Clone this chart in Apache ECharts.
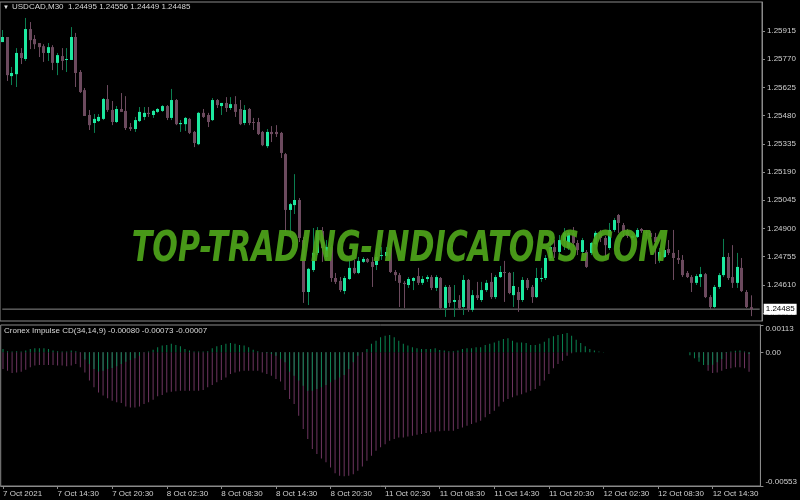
<!DOCTYPE html>
<html><head><meta charset="utf-8">
<script src="https://cdn.jsdelivr.net/npm/echarts@6/dist/echarts.min.js"></script>
<style>html,body{margin:0;padding:0;background:#000;}#c{width:800px;height:500px;}</style>
</head><body><div id="c"></div><script>
const dayTimes = ['00:00','00:30','01:00','01:30','02:00','02:30','03:00','03:30','04:00','04:30','05:00','05:30','06:00','06:30','07:00','07:30','08:00','08:30','09:00','09:30','10:00','10:30','11:00','11:30','12:00','12:30','13:00','13:30','14:00','14:30','15:00','15:30','16:00','16:30','17:00','17:30','18:00','18:30','19:00','19:30','20:00','20:30','21:00','21:30','22:00','22:30','23:00','23:30'];
const categories = [].concat(
  dayTimes.slice(17).map(t => '7 Oct ' + t),
  dayTimes.map(t => '8 Oct ' + t),
  dayTimes.map(t => '11 Oct ' + t),
  dayTimes.slice(0, 40).map(t => '12 Oct ' + t)
);
const firstLabel = '7 Oct 2021';

const opens = [1.25858,1.25884,1.25683,1.25693,1.25802,1.25771,1.25925,1.25874,1.25853,1.25837,1.25802,1.25832,1.25751,1.25786,1.25766,1.25766,1.25884,1.25704,1.25611,1.25483,1.25442,1.25452,1.25463,1.25565,1.25509,1.25447,1.25514,1.25504,1.25421,1.25411,1.25452,1.25473,1.25494,1.25483,1.25499,1.25504,1.25529,1.25468,1.25560,1.25436,1.25436,1.25463,1.25396,1.25333,1.25494,1.25483,1.25457,1.25560,1.25529,1.25545,1.25519,1.25539,1.25514,1.25442,1.25514,1.25447,1.25447,1.25396,1.25323,1.25396,1.25396,1.25391,1.25282,1.24995,1.25020,1.25046,1.24840,1.24573,1.24686,1.24774,1.24887,1.24753,1.24804,1.24645,1.24630,1.24578,1.24640,1.24697,1.24671,1.24728,1.24743,1.24728,1.24712,1.24758,1.24758,1.24799,1.24676,1.24660,1.24620,1.24609,1.24630,1.24655,1.24620,1.24640,1.24650,1.24594,1.24645,1.24491,1.24599,1.24522,1.24532,1.24496,1.24635,1.24481,1.24557,1.24532,1.24583,1.24625,1.24547,1.24650,1.24676,1.24671,1.24557,1.24573,1.24532,1.24635,1.24599,1.24547,1.24640,1.24645,1.24748,1.24804,1.24779,1.24835,1.24799,1.24877,1.24825,1.24779,1.24779,1.24774,1.24819,1.24877,1.24851,1.24799,1.24892,1.24969,1.24917,1.24887,1.24851,1.24856,1.24897,1.24882,1.24877,1.24856,1.24738,1.24753,1.24794,1.24774,1.24748,1.24738,1.24671,1.24650,1.24620,1.24650,1.24665,1.24547,1.24496,1.24599,1.24660,1.24753,1.24650,1.24620,1.24697,1.24573,1.24495];
const closes = [1.25884,1.25688,1.25699,1.25802,1.25776,1.25925,1.25868,1.25847,1.25832,1.25802,1.25832,1.25751,1.25791,1.25761,1.25771,1.25884,1.25699,1.25601,1.25478,1.25431,1.25463,1.25473,1.25565,1.25509,1.25447,1.25514,1.25499,1.25416,1.25411,1.25457,1.25499,1.25494,1.25488,1.25504,1.25514,1.25529,1.25468,1.25560,1.25436,1.25442,1.25468,1.25391,1.25339,1.25494,1.25473,1.25447,1.25560,1.25534,1.25545,1.25519,1.25539,1.25499,1.25436,1.25509,1.25442,1.25442,1.25385,1.25328,1.25396,1.25385,1.25385,1.25288,1.24995,1.25025,1.25046,1.24851,1.24573,1.24692,1.24774,1.24887,1.24799,1.24804,1.24645,1.24625,1.24583,1.24645,1.24697,1.24671,1.24733,1.24743,1.24728,1.24702,1.24753,1.24763,1.24779,1.24676,1.24660,1.24620,1.24614,1.24640,1.24645,1.24620,1.24640,1.24650,1.24594,1.24650,1.24491,1.24599,1.24517,1.24532,1.24491,1.24635,1.24481,1.24557,1.24542,1.24583,1.24620,1.24547,1.24650,1.24676,1.24671,1.24568,1.24604,1.24532,1.24635,1.24594,1.24547,1.24645,1.24645,1.24748,1.24804,1.24779,1.24840,1.24877,1.24877,1.24825,1.24789,1.24840,1.24702,1.24825,1.24877,1.24851,1.24814,1.24892,1.24943,1.24928,1.24882,1.24861,1.24861,1.24892,1.24887,1.24877,1.24856,1.24830,1.24779,1.24789,1.24774,1.24748,1.24738,1.24660,1.24650,1.24620,1.24655,1.24665,1.24547,1.24496,1.24599,1.24660,1.24753,1.24645,1.24620,1.24702,1.24578,1.24496,1.24485];
const lows = [1.25858,1.25658,1.25637,1.25627,1.25745,1.25761,1.25822,1.25822,1.25781,1.25756,1.25761,1.25714,1.25688,1.25714,1.25704,1.25766,1.25627,1.25596,1.25478,1.25406,1.25391,1.25447,1.25457,1.25499,1.25431,1.25442,1.25499,1.25406,1.25401,1.25396,1.25447,1.25457,1.25473,1.25468,1.25494,1.25499,1.25457,1.25457,1.25431,1.25396,1.25401,1.25385,1.25318,1.25328,1.25468,1.25421,1.25452,1.25519,1.25483,1.25499,1.25509,1.25473,1.25431,1.25431,1.25431,1.25406,1.25380,1.25323,1.25313,1.25344,1.25370,1.25262,1.24882,1.24856,1.24974,1.24830,1.24517,1.24506,1.24676,1.24763,1.24728,1.24738,1.24625,1.24614,1.24573,1.24562,1.24635,1.24665,1.24665,1.24723,1.24723,1.24599,1.24686,1.24738,1.24748,1.24671,1.24630,1.24496,1.24491,1.24594,1.24583,1.24609,1.24609,1.24625,1.24583,1.24578,1.24486,1.24445,1.24496,1.24445,1.24481,1.24455,1.24471,1.24471,1.24532,1.24522,1.24573,1.24537,1.24537,1.24645,1.24522,1.24562,1.24496,1.24471,1.24522,1.24583,1.24517,1.24542,1.24625,1.24635,1.24738,1.24748,1.24763,1.24789,1.24789,1.24804,1.24763,1.24763,1.24697,1.24763,1.24814,1.24830,1.24748,1.24789,1.24882,1.24877,1.24856,1.24851,1.24840,1.24851,1.24877,1.24861,1.24846,1.24717,1.24723,1.24748,1.24763,1.24635,1.24717,1.24650,1.24645,1.24573,1.24609,1.24599,1.24542,1.24486,1.24491,1.24589,1.24650,1.24635,1.24594,1.24594,1.24573,1.24491,1.24449];
const highs = [1.25920,1.25884,1.25730,1.25827,1.25827,1.25982,1.25961,1.25894,1.25853,1.25847,1.25853,1.25842,1.25802,1.25827,1.25827,1.25935,1.25905,1.25714,1.25622,1.25509,1.25488,1.25488,1.25570,1.25637,1.25555,1.25529,1.25596,1.25580,1.25442,1.25473,1.25524,1.25524,1.25524,1.25509,1.25519,1.25534,1.25534,1.25617,1.25565,1.25457,1.25473,1.25468,1.25401,1.25499,1.25514,1.25494,1.25570,1.25565,1.25545,1.25575,1.25575,1.25580,1.25560,1.25534,1.25519,1.25468,1.25468,1.25401,1.25411,1.25426,1.25431,1.25396,1.25288,1.25031,1.25179,1.25056,1.24856,1.24697,1.24902,1.24907,1.24907,1.24840,1.24814,1.24671,1.24650,1.24655,1.24738,1.24738,1.24753,1.24753,1.24748,1.24753,1.24799,1.24804,1.24804,1.24814,1.24686,1.24671,1.24630,1.24650,1.24650,1.24697,1.24655,1.24660,1.24660,1.24660,1.24650,1.24609,1.24609,1.24609,1.24557,1.24660,1.24640,1.24583,1.24625,1.24625,1.24635,1.24671,1.24660,1.24707,1.24733,1.24676,1.24676,1.24599,1.24650,1.24645,1.24609,1.24697,1.24697,1.24763,1.24825,1.24840,1.24866,1.24902,1.24887,1.24907,1.24840,1.24851,1.24789,1.24830,1.24887,1.24892,1.24861,1.24928,1.24954,1.24974,1.24928,1.24897,1.24871,1.24902,1.24902,1.24892,1.24887,1.24877,1.24799,1.24804,1.24840,1.24892,1.24789,1.24763,1.24681,1.24660,1.24665,1.24702,1.24671,1.24557,1.24609,1.24671,1.24846,1.24774,1.24814,1.24774,1.24748,1.24583,1.24556];

const N = null;
const impulseMain = [-0.00069,-0.00076,-0.00086,-0.00083,-0.00080,-0.00072,-0.00062,-0.00055,-0.00052,-0.00052,-0.00052,-0.00052,-0.00055,-0.00055,-0.00058,-0.00055,-0.00048,-0.00062,-0.00083,-0.00117,-0.00145,-0.00166,-0.00179,-0.00190,-0.00200,-0.00207,-0.00210,-0.00224,-0.00228,-0.00228,-0.00224,-0.00214,-0.00207,-0.00196,-0.00182,-0.00177,-0.00166,-0.00163,-0.00161,-0.00159,-0.00159,-0.00159,-0.00159,-0.00159,-0.00156,-0.00145,-0.00135,-0.00124,-0.00115,-0.00104,-0.00090,-0.00083,-0.00079,-0.00076,-0.00076,-0.00076,-0.00076,-0.00083,-0.00090,-0.00097,-0.00110,-0.00121,-0.00156,-0.00193,-0.00214,-0.00262,-0.00317,-0.00359,-0.00400,-0.00421,-0.00439,-0.00455,-0.00476,-0.00500,-0.00511,-0.00513,-0.00511,-0.00504,-0.00490,-0.00472,-0.00449,-0.00428,-0.00407,-0.00393,-0.00380,-0.00366,-0.00359,-0.00352,-0.00352,-0.00348,-0.00345,-0.00341,-0.00338,-0.00334,-0.00331,-0.00328,-0.00327,-0.00324,-0.00324,-0.00324,-0.00317,-0.00311,-0.00304,-0.00297,-0.00290,-0.00283,-0.00269,-0.00255,-0.00242,-0.00224,-0.00204,-0.00193,-0.00186,-0.00179,-0.00173,-0.00166,-0.00159,-0.00152,-0.00138,-0.00117,-0.00090,-0.00066,-0.00048,-0.00035,-0.00014,-0.00004,N,N,N,N,N,N,N,N,N,N,N,N,N,N,N,N,N,N,N,N,N,N,N,N,N,N,N,-0.00021,-0.00039,-0.00076,-0.00086,-0.00083,-0.00076,-0.00069,-0.00066,-0.00062,-0.00062,-0.00066,-0.00080];
const impulseDiff = [0.00014,0.00004,0.00003,0.00004,0.00003,0.00007,0.00014,0.00017,0.00017,0.00017,0.00014,0.00007,0.00004,0.00003,0.00003,0.00007,0.00004,0.00001,-0.00030,-0.00048,-0.00069,-0.00079,-0.00076,-0.00069,-0.00065,-0.00058,-0.00048,-0.00039,-0.00032,-0.00025,-0.00014,-0.00001,0.00003,0.00011,0.00021,0.00028,0.00030,0.00035,0.00030,0.00025,0.00014,0.00007,0.00003,0.00003,0.00003,0.00004,0.00017,0.00025,0.00030,0.00035,0.00039,0.00035,0.00030,0.00028,0.00021,0.00011,0.00004,0.00001,-0.00003,-0.00007,-0.00014,-0.00028,-0.00041,-0.00080,-0.00097,-0.00117,-0.00138,-0.00159,-0.00159,-0.00152,-0.00145,-0.00135,-0.00124,-0.00113,-0.00104,-0.00094,-0.00069,-0.00041,-0.00014,0.00001,0.00014,0.00035,0.00048,0.00062,0.00069,0.00072,0.00062,0.00048,0.00035,0.00028,0.00021,0.00017,0.00014,0.00014,0.00014,0.00017,0.00010,0.00007,0.00004,0.00004,0.00007,0.00014,0.00017,0.00017,0.00021,0.00021,0.00030,0.00035,0.00041,0.00048,0.00055,0.00058,0.00048,0.00041,0.00041,0.00039,0.00030,0.00030,0.00035,0.00044,0.00058,0.00066,0.00072,0.00076,0.00080,0.00069,0.00052,0.00039,0.00025,0.00014,0.00007,0.00003,0.00001,N,N,N,N,N,N,N,N,N,N,N,N,N,N,N,N,N,N,-0.00012,-0.00025,-0.00039,-0.00052,-0.00052,-0.00051,-0.00041,-0.00028,-0.00003,0.00003,0.00006,0.00008,0.00003,-0.00007];

const priceTicks = [1.24465,1.24610,1.24755,1.24900,1.25045,1.25190,1.25335,1.25480,1.25625,1.25770,1.25915];
const impulseTicks = [-0.00553, 0, 0.00113];
const lastPrice = 1.24485;
const headerText = 'USDCAD,M30  1.24495 1.24556 1.24449 1.24485';
const indicatorText = 'Cronex Impulse CD(34,14,9) -0.00080 -0.00073 -0.00007';

const BULL = '#1de9a0', BULL_WICK = '#0b7e50', BEAR = '#6c4a5e';
const candleData = opens.map((o, i) => [i, o, closes[i], lows[i], highs[i]]);
const priceLineData = [[0, lastPrice], [categories.length - 1, lastPrice]];

function renderCandle(params, api) {
  const x = api.value(0), o = api.value(1), c = api.value(2), l = api.value(3), h = api.value(4);
  const pO = api.coord([x, o]), pC = api.coord([x, c]), pL = api.coord([x, l]), pH = api.coord([x, h]);
  const up = c >= o;
  const xc = Math.round(pO[0]) + 0.5;
  const top = Math.min(pO[1], pC[1]), bot = Math.max(pO[1], pC[1]);
  return { type: 'group', children: [
    { type: 'line', shape: { x1: xc, y1: pH[1], x2: xc, y2: pL[1] }, style: { stroke: up ? BULL_WICK : BEAR, lineWidth: 1 } },
    { type: 'rect', shape: { x: xc - 1.5, y: top, width: 3, height: Math.max(1, bot - top) }, style: { fill: up ? BULL : BEAR } }
  ]};
}

const chart = echarts.init(document.getElementById('c'), null, { renderer: 'canvas' });
const labelFont = { color: '#cfcfcf', fontSize: 8, fontFamily: 'Liberation Sans' };
chart.setOption({
  backgroundColor: '#000',
  animation: false,
  grid: [
    { left: 0, right: 38, top: 2, bottom: 179, show: true, borderColor: '#8a8a8a', borderWidth: 1 },
    { left: 0, right: 38, top: 325, bottom: 14, show: true, borderColor: '#8a8a8a', borderWidth: 1 }
  ],
  xAxis: [
    { type: 'category', gridIndex: 0, data: categories, boundaryGap: true, axisLine: { show: false }, axisTick: { show: false }, axisLabel: { show: false }, splitLine: { show: false } },
    { type: 'category', gridIndex: 1, data: categories, boundaryGap: true,
      axisLine: { show: true, onZero: false, lineStyle: { color: '#8a8a8a' } },
      axisTick: { show: true, interval: 11, alignWithLabel: true, length: 3, lineStyle: { color: '#8a8a8a' } },
      axisLabel: Object.assign({ interval: 11, align: 'left', margin: 4, formatter: (v, i) => i === 0 ? firstLabel : v }, labelFont),
      splitLine: { show: false } }
  ],
  yAxis: [
    { type: 'value', gridIndex: 0, position: 'right', min: 1.24424, max: 1.26064, scale: true,
      axisLine: { show: true, lineStyle: { color: '#8a8a8a' } },
      axisTick: { show: true, length: 3, customValues: priceTicks, lineStyle: { color: '#8a8a8a' } },
      axisLabel: Object.assign({ margin: 5, customValues: priceTicks, formatter: v => v.toFixed(5) }, labelFont),
      splitLine: { show: false } },
    { type: 'value', gridIndex: 1, position: 'right', min: -0.00553, max: 0.00113,
      axisLine: { show: true, lineStyle: { color: '#8a8a8a' } },
      axisTick: { show: true, length: 3, customValues: impulseTicks, lineStyle: { color: '#8a8a8a' } },
      axisLabel: Object.assign({ margin: 5, customValues: impulseTicks, verticalAlignMaxLabel: 'top', verticalAlignMinLabel: 'bottom',
        formatter: v => v === 0 ? '0.00' : v.toFixed(5) }, labelFont),
      splitLine: { show: false } }
  ],
  series: [
    { type: 'line', name: 'price line', xAxisIndex: 0, yAxisIndex: 0, data: priceLineData, symbol: 'none', silent: true, z: 1,
      lineStyle: { color: '#8a8a8a', width: 1 },
      endLabel: { show: true, formatter: () => lastPrice.toFixed(5), backgroundColor: '#ffffff', color: '#000', fontSize: 8, fontFamily: 'Liberation Sans', padding: [2, 2, 1, 2], distance: 4 } },
    { type: 'custom', name: 'USDCAD', xAxisIndex: 0, yAxisIndex: 0, data: candleData, renderItem: renderCandle, clip: true, z: 2,
      encode: { x: 0, y: [1, 2, 3, 4] } },
    { type: 'bar', name: 'main', xAxisIndex: 1, yAxisIndex: 1, data: impulseMain, barWidth: 1, barGap: '-100%', itemStyle: { color: '#6e3560' } },
    { type: 'bar', name: 'diff', xAxisIndex: 1, yAxisIndex: 1, data: impulseDiff, barWidth: 1, barGap: '-100%', itemStyle: { color: '#0a8552' } }
  ],
  graphic: [
    { type: 'text', x: 400, y: 250, scaleX: 0.7, z: 100, style: { text: 'TOP-TRADING-INDICATORS.COM', fontFamily: 'DejaVu Sans', fontSize: 43, fontWeight: 'bold', fontStyle: 'italic', fill: 'rgba(78,165,26,0.92)', align: 'center', verticalAlign: 'middle' } },
    { type: 'text', x: 3, y: 7, z: 100, style: { text: '▼', fontSize: 6, fill: '#e0e0e0', verticalAlign: 'middle' } },
    { type: 'text', x: 12, y: 7, z: 100, style: { text: headerText, fontFamily: 'Liberation Sans', fontSize: 8, fill: '#d8d8d8', verticalAlign: 'middle' } },
    { type: 'text', x: 4, y: 331, z: 100, style: { text: indicatorText, fontFamily: 'Liberation Sans', fontSize: 8, fill: '#d8d8d8', verticalAlign: 'middle' } }
  ]
});
</script></body></html>
